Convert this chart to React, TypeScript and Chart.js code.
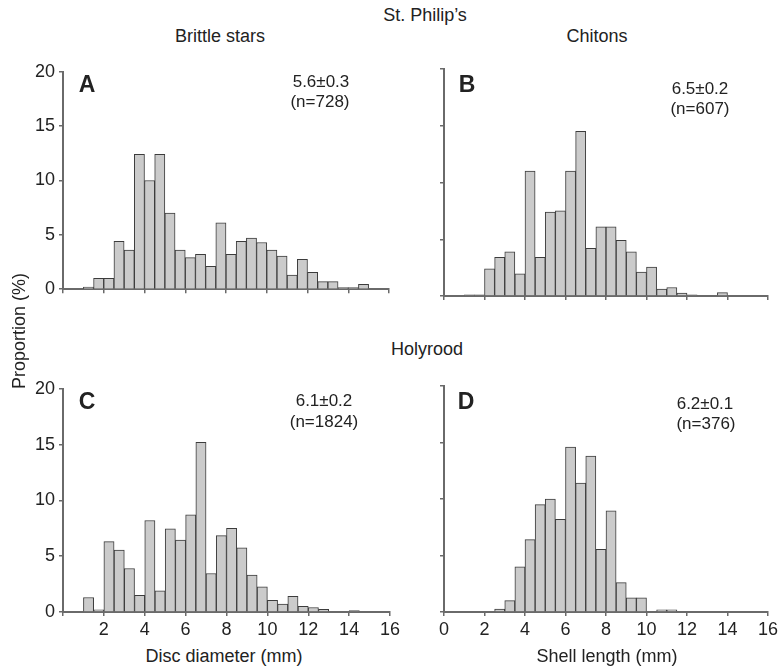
import React, { useEffect, useRef } from "react";
import { Chart, registerables } from "chart.js";

Chart.register(...registerables);

// Bin centres (0.5 mm bins from 1.0 to 15.0 mm)
const binCenters = [
  1.25, 1.75, 2.25, 2.75, 3.25, 3.75, 4.25, 4.75, 5.25, 5.75, 6.25, 6.75, 7.25, 7.75,
  8.25, 8.75, 9.25, 9.75, 10.25, 10.75, 11.25, 11.75, 12.25, 12.75, 13.25, 13.75, 14.25, 14.75,
];

// Proportion (%) per bin
const brittleStPhilips = [
  0.2, 1.0, 1.0, 4.4, 3.6, 12.4, 10.0, 12.4, 7.0, 3.6, 2.9, 3.2, 2.1, 6.1,
  3.2, 4.4, 4.7, 4.3, 3.6, 3.05, 1.3, 2.75, 1.55, 0.7, 0.7, 0.15, 0.15, 0.45,
];
const chitonsStPhilips = [
  0.1, 0.1, 2.4, 3.4, 3.9, 1.95, 11.0, 3.4, 7.4, 7.5, 11.0, 14.5, 4.2, 6.1,
  6.1, 4.9, 3.9, 2.1, 2.55, 0.6, 0.75, 0.25, 0.1, 0, 0, 0.3, 0, 0,
];
const brittleHolyrood = [
  1.3, 0.2, 6.3, 5.55, 3.9, 1.5, 8.2, 1.9, 7.45, 6.45, 8.7, 15.2, 3.45, 6.85,
  7.5, 5.75, 3.3, 2.25, 1.05, 0.7, 1.4, 0.5, 0.4, 0.25, 0, 0, 0.12, 0,
];
const chitonsHolyrood = [
  0, 0, 0, 0.25, 1.0, 4.0, 6.4, 9.5, 10.0, 8.2, 14.6, 11.4, 13.8, 5.55,
  8.95, 2.6, 1.25, 1.25, 0, 0.2, 0.2, 0, 0, 0, 0, 0, 0, 0,
];

const yTickValues = [0, 5, 10, 15, 20];
const xTickValues = [0, 2, 4, 6, 8, 10, 12, 14, 16];

const FONT = "'Liberation Sans', Arial, Helvetica, sans-serif";
const TEXT = "#222";
const AXIS = "#6a6a6a";

type PanelProps = {
  values: number[];
  left: number;
  top: number;
  width: number;
  height: number;
  yAxisWidth: number;
  xAxisHeight: number;
  showY: boolean;
  showX: boolean;
  hideZeroX: boolean;
};

function Panel(p: PanelProps) {
  const ref = useRef<HTMLCanvasElement | null>(null);
  useEffect(() => {
    if (!ref.current) return;
    const data = binCenters.map((x, i) => ({ x, y: p.values[i] > 0 ? p.values[i] : null }));
    const chart = new Chart(ref.current, {
      type: "bar",
      data: {
        datasets: [
          {
            data: data as any,
            backgroundColor: "#cbcbcb",
            borderColor: "#3c3c3c",
            borderWidth: 1,
            barPercentage: 1,
            categoryPercentage: 1,
          },
        ],
      },
      options: {
        responsive: false,
        maintainAspectRatio: false,
        animation: false,
        events: [],
        layout: { padding: { top: 12, right: 15, bottom: 2, left: 0 } },
        plugins: { legend: { display: false }, tooltip: { enabled: false }, title: { display: false } },
        scales: {
          x: {
            type: "linear",
            min: 0,
            max: 16,
            offset: false,
            grid: {
              display: true,
              offset: false,
              drawOnChartArea: false,
              drawTicks: true,
              tickLength: 4,
              color: AXIS,
              lineWidth: 1.5,
            },
            border: { display: true, color: AXIS, width: 2 },
            afterBuildTicks: (s: any) => {
              s.ticks = xTickValues.map((v) => ({ value: v }));
            },
            afterFit: (s: any) => {
              s.height = p.xAxisHeight;
            },
            ticks: {
              display: p.showX,
              autoSkip: false,
              maxRotation: 0,
              padding: 3,
              color: TEXT,
              font: { family: FONT, size: 18 },
              callback: (v: any) => (p.hideZeroX && Number(v) === 0 ? "" : String(v)),
            },
          },
          y: {
            type: "linear",
            min: 0,
            max: 20,
            grid: {
              display: true,
              drawOnChartArea: false,
              drawTicks: true,
              tickLength: 4,
              color: AXIS,
              lineWidth: 1.5,
            },
            border: { display: true, color: AXIS, width: 2 },
            afterBuildTicks: (s: any) => {
              s.ticks = yTickValues.map((v) => ({ value: v }));
            },
            afterFit: (s: any) => {
              s.width = p.yAxisWidth;
            },
            ticks: {
              display: p.showY,
              autoSkip: false,
              padding: 4,
              color: TEXT,
              font: { family: FONT, size: 18 },
            },
          },
        },
      } as any,
    });
    return () => chart.destroy();
  }, []);
  return (
    <canvas
      ref={ref}
      width={p.width}
      height={p.height}
      style={{ position: "absolute", left: p.left, top: p.top, width: p.width, height: p.height }}
    />
  );
}

function Label(props: {
  x: number;
  y: number;
  text: string;
  size?: number;
  bold?: boolean;
  rotate?: boolean;
}) {
  return (
    <div
      style={{
        position: "absolute",
        left: props.x,
        top: props.y,
        transform: `translate(-50%, -50%)${props.rotate ? " rotate(-90deg)" : ""}`,
        fontFamily: FONT,
        fontSize: props.size ?? 18,
        fontWeight: props.bold ? "bold" : "normal",
        color: TEXT,
        whiteSpace: "nowrap",
        lineHeight: 1,
      }}
    >
      {props.text}
    </div>
  );
}

export default function App() {
  return (
    <div
      style={{
        position: "absolute",
        left: 0,
        top: 0,
        width: 780,
        height: 667,
        background: "#fff",
        overflow: "hidden",
      }}
    >
      <Panel values={brittleStPhilips} left={0} top={57} width={404} height={247} yAxisWidth={63} xAxisHeight={6} showY={true} showX={false} hideZeroX={false} />
      <Panel values={chitonsStPhilips} left={400} top={57} width={383} height={247} yAxisWidth={44} xAxisHeight={6} showY={false} showX={false} hideZeroX={false} />
      <Panel values={brittleHolyrood} left={0} top={374} width={405} height={270} yAxisWidth={63} xAxisHeight={30} showY={true} showX={true} hideZeroX={true} />
      <Panel values={chitonsHolyrood} left={400} top={374} width={383} height={270} yAxisWidth={44} xAxisHeight={30} showY={false} showX={true} hideZeroX={false} />

      <Label x={425} y={15} text="St. Philip’s" />
      <Label x={220} y={36} text="Brittle stars" />
      <Label x={597} y={36} text="Chitons" />
      <Label x={427} y={349} text="Holyrood" />
      <Label x={19} y={331} text="Proportion (%)" rotate={true} />
      <Label x={224} y={656} text="Disc diameter (mm)" />
      <Label x={607} y={656} text="Shell length (mm)" />

      <Label x={87} y={84} text="A" size={23} bold={true} />
      <Label x={321} y={81} text="5.6±0.3" size={17} />
      <Label x={320} y={101} text="(n=728)" size={17} />

      <Label x={467} y={84} text="B" size={23} bold={true} />
      <Label x={700} y={88} text="6.5±0.2" size={17} />
      <Label x={700} y={108} text="(n=607)" size={17} />

      <Label x={87} y={401} text="C" size={23} bold={true} />
      <Label x={324} y={400} text="6.1±0.2" size={17} />
      <Label x={324} y={421} text="(n=1824)" size={17} />

      <Label x={466} y={401} text="D" size={23} bold={true} />
      <Label x={705} y={403} text="6.2±0.1" size={17} />
      <Label x={706} y={423} text="(n=376)" size={17} />
    </div>
  );
}
